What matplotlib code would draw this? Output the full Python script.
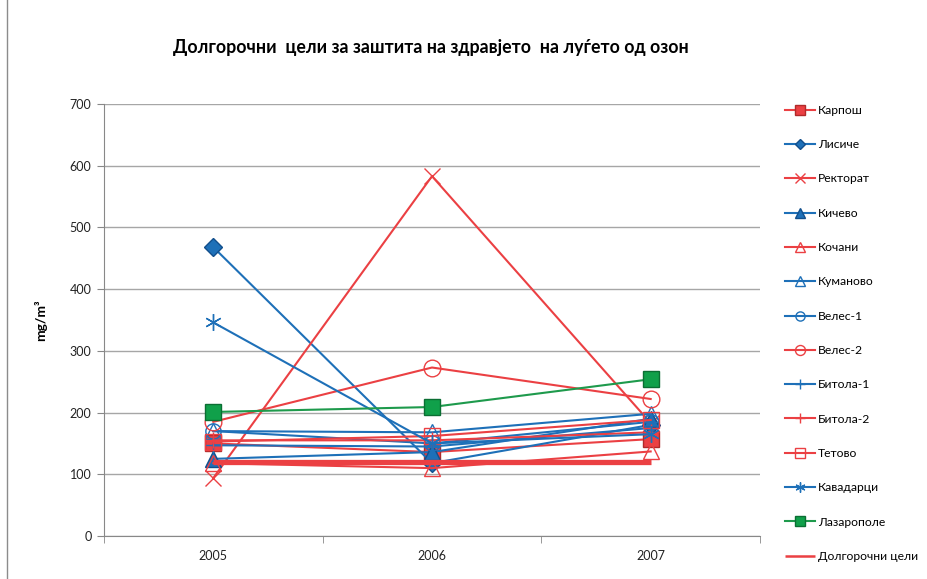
import matplotlib.pyplot as plt
from matplotlib.lines import Line2D

plt.rcParams['font.family'] = ['Lato', 'DejaVu Sans']

years = ['2005', '2006', '2007']
stations = ['Карпош', 'Лисиче', 'Ректорат', 'Кичево', 'Кочани', 'Куманово',
            'Велес-1', 'Велес-2', 'Битола-1', 'Битола-2', 'Тетово',
            'Кавадарци', 'Лазарополе', 'Долгорочни цели']

karposh = [150, 136, 157]
lisiche = [468, 118, 180]
rektorat = [94, 583, 183]
kichevo = [125, 136, 190]
kochani = [118, 110, 137]
kumanovo = [170, 168, 198]
veles1 = [170, 150, 185]
veles2 = [185, 273, 222]
bitola1 = [147, 145, 175]
bitola2 = [155, 155, 168]
tetovo = [153, 162, 188]
kavadarci = [346, 150, 165]
lazaropole = [201, 209, 254]
target = [120, 120, 120]

RED = '#EB4043'
BLUE = '#1E70B8'
GREEN = '#1E9A4C'

# (values, colour, marker, marker face, marker size)
styles = [
    (karposh, RED, 's', RED, 12),
    (lisiche, BLUE, 'D', BLUE, 9),
    (rektorat, RED, 'x', 'none', 11),
    (kichevo, BLUE, '^', BLUE, 11),
    (kochani, RED, '^', 'none', 11),
    (kumanovo, BLUE, '^', 'none', 11),
    (veles1, BLUE, 'o', 'none', 11),
    (veles2, RED, 'o', 'none', 12),
    (bitola1, BLUE, '+', 'none', 11),
    (bitola2, RED, '+', 'none', 11),
    (tetovo, RED, 's', 'none', 11),
    (kavadarci, BLUE, (6, 2, 0), 'none', 12),
    (lazaropole, GREEN, 's', '#10A04A', 12),
]

fig = plt.figure(figsize=(9.27, 5.79), dpi=100)
ax = fig.add_axes([104 / 927, 1 - 536 / 579, 656 / 927, 432 / 579])

x = range(len(years))
for name, (vals, col, mk, face, ms) in zip(stations, styles):
    edge = '#0B6E33' if col == GREEN else ('#B02A2A' if face == RED else col)
    if col == BLUE and face == BLUE:
        edge = '#124F8C'
    ax.plot(x, vals, color=col, lw=1.5, marker=mk, markersize=ms,
            markerfacecolor=face, markeredgecolor=edge, markeredgewidth=1.0,
            label=name)
ax.plot(x, target, color=RED, lw=3.8, label=stations[-1], solid_capstyle='butt')

ax.set_xlim(-0.5, 2.5)
ax.set_ylim(0, 700)
ax.set_yticks(range(0, 701, 100))
ax.set_xticks(list(x))
ax.set_xticklabels(years)
ax.set_xticks([-0.5, 0.5, 1.5, 2.5], minor=True)
ax.tick_params(axis='x', which='major', length=0, pad=10)
ax.tick_params(axis='x', which='minor', length=5, color='#888888')
ax.tick_params(axis='y', length=5, color='#888888', pad=4)
ax.tick_params(labelsize=9, labelcolor='#222222')
ax.grid(axis='y', color='#A6A6A6', lw=1.0)
ax.set_axisbelow(True)
for side in ['top', 'right']:
    ax.spines[side].set_visible(False)
for side in ['left', 'bottom']:
    ax.spines[side].set_color('#888888')

ax.set_ylabel('mg/m³', fontsize=10, fontweight='bold', labelpad=16)
fig.text(431 / 927, 1 - 47 / 579, 'Долгорочни  цели за заштита на здравјето  на луѓето од озон',
         ha='center', va='center', fontsize=12.8, fontweight='bold')

leg = fig.legend(loc='upper left', bbox_to_anchor=(780 / 927, 1 - 100 / 579),
                 frameon=False, fontsize=8.7, labelspacing=1.93, handlelength=2.5,
                 handletextpad=0.25, borderaxespad=0, markerscale=0.6)
leg.legend_handles[-1].set_linewidth(1.8)

# thin frame line along the left edge of the chart area
fig.add_artist(Line2D([7 / 927, 7 / 927], [0, 1], color='#8C8C8C', lw=1,
                      transform=fig.transFigure))

fig.savefig('out.png', dpi=100)
